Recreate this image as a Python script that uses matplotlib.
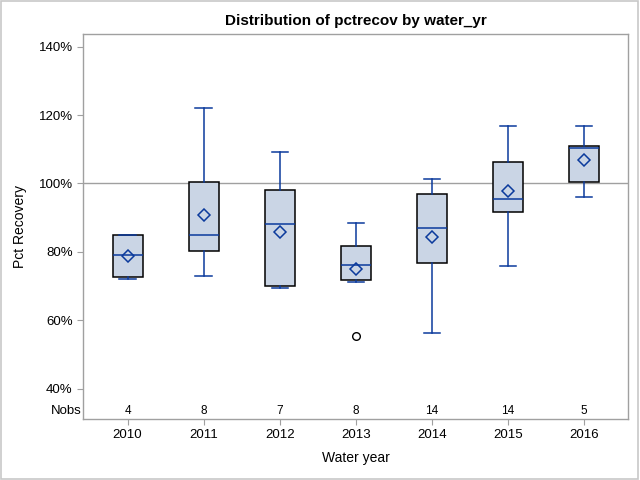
import matplotlib.pyplot as plt
from matplotlib.patches import Rectangle

plt.rcParams['font.family'] = ['Liberation Sans', 'DejaVu Sans']

# data (percent)
years = ["2010", "2011", "2012", "2013", "2014", "2015", "2016"]
nobs = [4, 8, 7, 8, 14, 14, 5]
whislo = [72.0, 72.9, 69.4, 71.1, 56.2, 75.9, 96.0]
q1 = [72.6, 80.2, 69.9, 71.7, 76.7, 91.6, 100.35]
med = [79.0, 84.85, 88.1, 76.1, 86.9, 95.4, 110.3]
q3 = [84.85, 100.35, 98.0, 81.6, 96.8, 106.2, 110.9]
whishi = [84.85, 122.0, 109.1, 88.4, 101.4, 116.7, 116.7]
means = [78.8, 90.7, 85.7, 75.1, 84.3, 97.8, 106.8]
outliers = [[], [], [], [55.3], [], [], []]

blue = "#0B3A9C"
fill = "#CAD5E5"
grey = "#A0A0A0"

stats = []
for i in range(len(years)):
    stats.append({"label": years[i], "whislo": whislo[i], "q1": q1[i], "med": med[i],
                  "q3": q3[i], "whishi": whishi[i], "mean": means[i], "fliers": outliers[i]})

fig = plt.figure(figsize=(6.4, 4.8), dpi=100)
ax = fig.add_axes([0.1297, 0.1271, 0.852, 0.8014])

ax.axhline(100, color=grey, lw=1.0, zorder=1)

ax.bxp(stats, positions=range(len(years)), widths=0.394, patch_artist=True,
       showmeans=True, showfliers=True,
       boxprops=dict(facecolor=fill, edgecolor="black", linewidth=1.1),
       medianprops=dict(color=blue, linewidth=1.1),
       whiskerprops=dict(color=blue, linewidth=1.1),
       capprops=dict(color=blue, linewidth=1.1),
       capwidths=0.214,
       meanprops=dict(marker="D", markerfacecolor="none", markeredgecolor=blue,
                      markersize=6, markeredgewidth=1.1),
       flierprops=dict(marker="o", markerfacecolor="none", markeredgecolor="black",
                       markersize=5.5, markeredgewidth=1.0),
       zorder=3)

ax.set_xlim(-0.585, 6.58)
ax.set_ylim(31.1, 143.6)
ax.set_yticks([40, 60, 80, 100, 120, 140])
ax.set_yticklabels(["40%", "60%", "80%", "100%", "120%", "140%"])
ax.set_xticks(range(len(years)))
ax.set_xticklabels(years)

for s in ax.spines.values():
    s.set_color(grey)
    s.set_linewidth(1.0)
ax.tick_params(axis="both", colors=grey, labelcolor="black", labelsize=9.5,
               length=4, width=0.8)

# Nobs row
for i, n in enumerate(nobs):
    ax.text(i, 33.3, str(n), ha="center", va="center", fontsize=8.5)
ax.text(-0.0022, 33.3, "Nobs", ha="right", va="center", fontsize=9.5,
        transform=ax.get_yaxis_transform())

ax.set_xlabel("Water year", fontsize=10, labelpad=7)
ax.set_ylabel("Pct Recovery", fontsize=10, labelpad=8)
ax.set_title("Distribution of pctrecov by water_yr", fontsize=11, fontweight="bold", pad=7)

fig.patches.append(Rectangle((0.0015, 0.003), 0.996, 0.994, transform=fig.transFigure,
                             fill=False, edgecolor="#C8C8C8", lw=1.2))

fig.savefig("out.png", dpi=100)
